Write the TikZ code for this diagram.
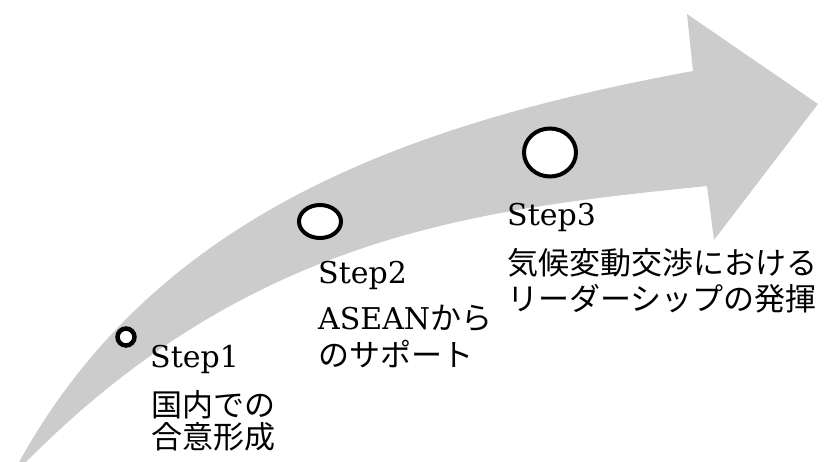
\documentclass[tikz,border=0pt]{standalone}
\usepackage{fontspec}
\setmainfont{DejaVu Serif}
\newfontfamily\jp{Noto Sans CJK JP}
\definecolor{arrowgray}{RGB}{204,204,204}
\begin{document}
\begin{tikzpicture}[x=1pt,y=-1pt,
  stepring/.style={draw=black,line width=4pt,fill=white},
  steplabel/.style={anchor=base west,inner sep=0pt,font=\fontsize{30}{34}\selectfont},
  desc/.style={anchor=base west,inner sep=0pt,font=\fontsize{31}{34}\selectfont\jp}]
\useasboundingbox (0,0) rectangle (830,461);
% curved arrow
\fill[arrowgray] (18,464) .. controls (150,224) and (387,127) .. (693,71)
  -- (687,14) -- (818,104) -- (714,240) -- (707,186)
  .. controls (479.5,209.4) and (252,233) .. (24,464) -- cycle;
% step markers
\draw[stepring,line width=4.5pt] (126,337) ellipse [x radius=8.5, y radius=8.5];
\draw[stepring] (320,221.5) ellipse [x radius=21, y radius=16.5];
\draw[stepring] (550,152.5) ellipse [x radius=26, y radius=24];
% labels
\node[steplabel] (s1) at (150,367) {Step1};
\node[desc] (s1a) at (151,416) {国内での};
\node[desc] (s1b) at (151,448) {合意形成};
\node[steplabel] (s2) at (318,283) {Step2};
\node[desc] (s2a) at (318,329) {{\rmfamily\fontsize{30}{34}\selectfont ASEAN}から};
\node[desc] (s2b) at (318,366) {のサポート};
\node[steplabel] (s3) at (507,225) {Step3};
\node[desc] (s3a) at (507,274) {気候変動交渉における};
\node[desc] (s3b) at (507,310) {リーダーシップの発揮};
\end{tikzpicture}
\end{document}
